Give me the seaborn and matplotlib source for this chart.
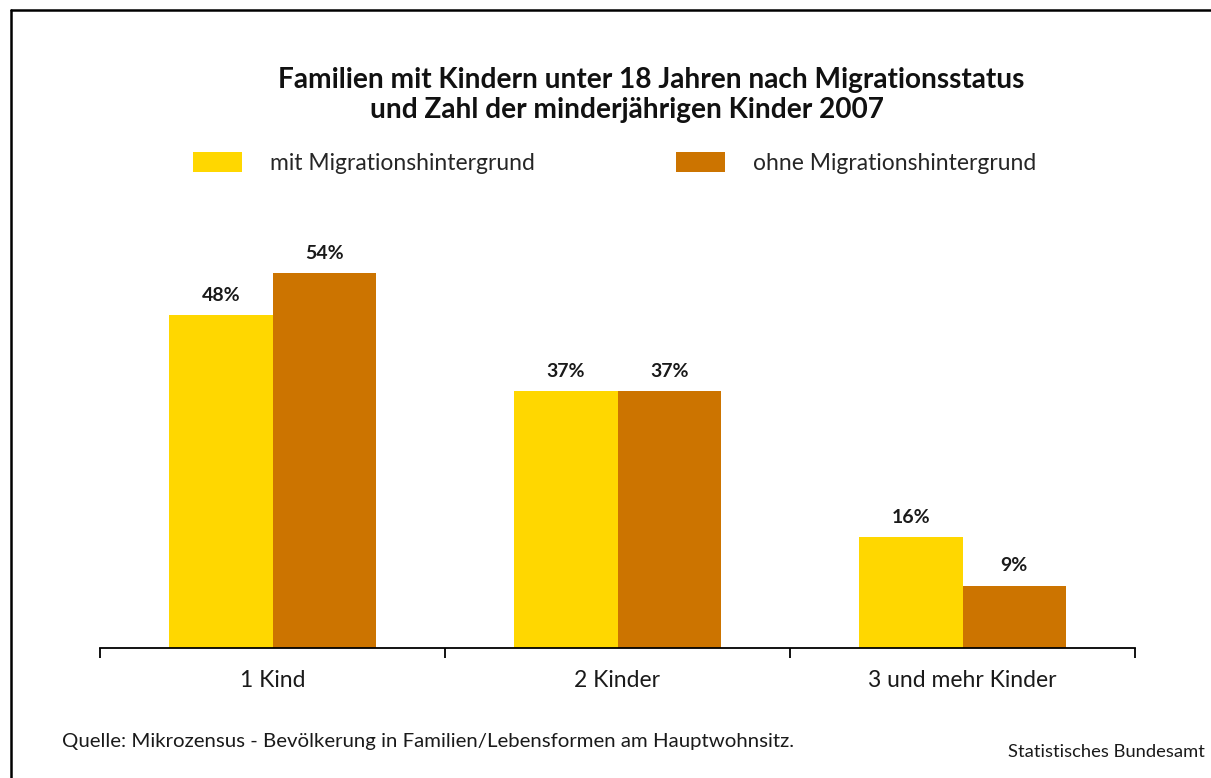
import matplotlib
matplotlib.use("Agg")
import matplotlib.pyplot as plt
import matplotlib.lines as mlines
import pandas as pd
import seaborn as sns

categories = ["1 Kind", "2 Kinder", "3 und mehr Kinder"]
series_names = ["mit Migrationshintergrund", "ohne Migrationshintergrund"]
mit_values = [48, 37, 16]
ohne_values = [54, 37, 9]
colors = ["#FFD700", "#CC7400"]

df = pd.DataFrame({
    "Kinder": categories * 2,
    "Status": [series_names[0]] * 3 + [series_names[1]] * 3,
    "Anteil": mit_values + ohne_values,
})

sns.set_theme(style="white")
plt.rcParams["font.family"] = ["Lato", "DejaVu Sans"]

W, H = 1211, 778
fig = plt.figure(figsize=(W / 100, H / 100), dpi=100)
ax = fig.add_axes([100 / W, (H - 648) / H, 1035 / W, 428 / H])

sns.barplot(data=df, x="Kinder", y="Anteil", hue="Status", order=categories,
            hue_order=series_names, palette=colors, width=0.6, saturation=1,
            linewidth=0, ax=ax)

for cont in ax.containers:
    ax.bar_label(cont, labels=[f"{v:.0f}%" for v in cont.datavalues],
                 padding=8, fontsize=14, fontweight="bold", color="#1a1a1a")

ax.set_xlim(-0.5, 2.5)
ax.set_ylim(0, 428 / 6.944)
ax.set_xlabel("")
ax.set_ylabel("")
ax.set_yticks([])
for side in ["top", "right", "left"]:
    ax.spines[side].set_visible(False)
ax.spines["bottom"].set_color("black")
ax.spines["bottom"].set_linewidth(1.3)
ax.set_xticks([0, 1, 2])
ax.set_xticklabels(categories, fontsize=16.5, color="#1a1a1a")
ax.tick_params(axis="x", which="major", length=0, pad=16)
ax.set_xticks([-0.5, 0.5, 1.5, 2.5], minor=True)
ax.tick_params(axis="x", which="minor", bottom=True, direction="out",
               length=7.5, width=1.3, color="black")

leg = ax.get_legend()
handles = leg.legend_handles
leg.remove()
fig.legend(handles, series_names, loc="center left",
           bbox_to_anchor=(193 / W, 1 - 163 / H), ncol=2, frameon=False,
           fontsize=16.5, handlelength=2.14, handleheight=0.92,
           handletextpad=1.22, columnspacing=6.15, borderpad=0,
           borderaxespad=0)

fig.text(651 / W, 1 - 80 / H, "Familien mit Kindern unter 18 Jahren nach Migrationsstatus",
         ha="center", va="center", fontsize=20.2, fontweight="bold", color="#111111")
fig.text(627 / W, 1 - 110 / H, "und Zahl der minderjährigen Kinder 2007",
         ha="center", va="center", fontsize=20.2, fontweight="bold", color="#111111")

fig.text(62 / W, 1 - 742 / H,
         "Quelle: Mikrozensus - Bevölkerung in Familien/Lebensformen am Hauptwohnsitz.",
         ha="left", va="center", fontsize=14.7, color="#1a1a1a")
fig.text(1205 / W, 1 - 752 / H, "Statistisches Bundesamt",
         ha="right", va="center", fontsize=13.2, color="#1a1a1a")

# frame (top and left edges only are visible)
fig.add_artist(mlines.Line2D([11 / W, 1], [1 - 10 / H, 1 - 10 / H],
                             transform=fig.transFigure, color="black", lw=1.8))
fig.add_artist(mlines.Line2D([11 / W, 11 / W], [0, 1 - 10 / H],
                             transform=fig.transFigure, color="black", lw=1.8))

fig.savefig("out.png", dpi=100)
